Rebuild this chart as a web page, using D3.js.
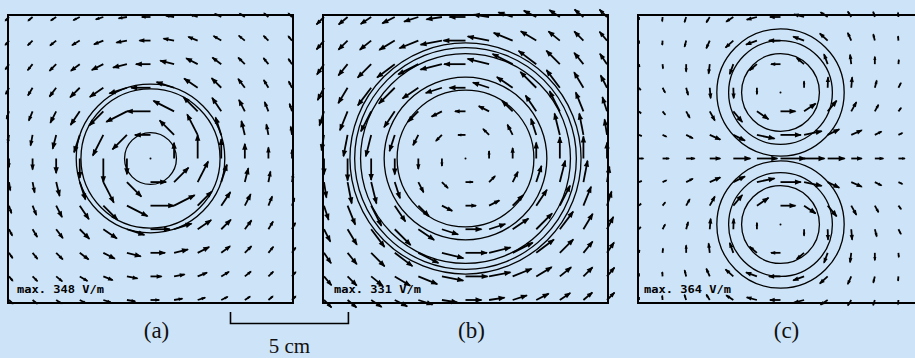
<!DOCTYPE html>
<html>
<head>
<meta charset="utf-8">
<script src="https://cdn.jsdelivr.net/npm/d3@7"></script>
<style>
  body { margin: 0; background: #cde4f8; }
  svg { display: block; }
</style>
</head>
<body>
<svg width="915" height="358"></svg>
<script>
// grid of sample points, cm from the panel centre
let gridX = [-6, -5, -4, -3, -2, -1, 0, 1, 2, 3, 4, 5, 6];
let gridY = [6, 5, 4, 3, 2, 1, 0, -1, -2, -3, -4, -5, -6];

// arrow directions (deg, counter-clockwise from +x) for the round coils (a) and (b)
let ringAngles = [
  [-135,-140,-146,-153,-162,-171,180,171,162,153,146,140,135],
  [-130,-135,-141,-149,-158,-169,180,169,158,149,141,135,130],
  [-124,-129,-135,-143,-153,-166,180,166,153,143,135,129,124],
  [-117,-121,-127,-135,-146,-162,180,162,146,135,127,121,117],
  [-108,-112,-117,-124,-135,-153,180,153,135,124,117,112,108],
  [-99,-101,-104,-108,-117,-135,180,135,117,108,104,101,99],
  [-90,-90,-90,-90,-90,-90,0,90,90,90,90,90,90],
  [-81,-79,-76,-72,-63,-45,0,45,63,72,76,79,81],
  [-72,-68,-63,-56,-45,-27,0,27,45,56,63,68,72],
  [-63,-59,-53,-45,-34,-18,0,18,34,45,53,59,63],
  [-56,-51,-45,-37,-27,-14,0,14,27,37,45,51,56],
  [-50,-45,-39,-31,-22,-11,0,11,22,31,39,45,50],
  [-45,-40,-34,-27,-18,-9,0,9,18,27,34,40,45]
];

// arrow directions for the figure-8 coil (c)
let anglesC = [
  [-90,-95,-108,-122,-147,-165,180,165,147,122,108,95,90],
  [-90,-94,-104,-114,-138,-160,180,160,138,114,104,94,90],
  [-82,-85,-90,-97,-110,-140,180,140,110,97,90,85,82],
  [-55,-62,-75,-85,-88,-90,180,90,88,85,75,62,55],
  [-45,-52,-61,-61,-50,-34,0,34,50,61,61,52,45],
  [-22,-25,-27,-24,-26,-12,0,12,26,24,27,25,22],
  [0,0,0,0,0,0,0,0,0,0,0,0,0],
  [22,25,27,24,26,12,0,-12,-26,-24,-27,-25,-22],
  [45,52,61,61,50,34,0,-34,-50,-61,-61,-52,-45],
  [55,62,75,85,88,90,180,-90,-88,-85,-75,-62,-55],
  [82,85,90,97,110,140,180,-140,-110,-97,-90,-85,-82],
  [90,94,104,114,138,160,180,-160,-138,-114,-104,-94,-90],
  [90,95,108,122,147,165,180,-165,-147,-122,-108,-95,-90]
];

// field strength, V/m
let fieldA = [
  [78,86,95,106,116,124,128,124,116,106,95,86,78],
  [86,100,115,132,148,158,163,158,148,132,115,100,86],
  [95,115,138,163,190,210,215,210,190,163,138,115,95],
  [106,132,163,200,240,270,285,270,240,200,163,132,106],
  [116,148,190,240,295,340,348,340,295,240,190,148,116],
  [124,158,210,270,340,300,230,300,340,270,210,158,124],
  [128,163,215,285,348,230,0,230,348,285,215,163,128],
  [124,158,210,270,340,300,230,300,340,270,210,158,124],
  [116,148,190,240,295,340,348,340,295,240,190,148,116],
  [106,132,163,200,240,270,285,270,240,200,163,132,106],
  [95,115,138,163,190,210,215,210,190,163,138,115,95],
  [86,100,115,132,148,158,163,158,148,132,115,100,86],
  [78,86,95,106,116,124,128,124,116,106,95,86,78]
];

let fieldB = [
  [155,170,185,205,220,230,235,230,220,205,185,170,155],
  [170,190,215,265,300,320,325,320,300,265,215,190,170],
  [185,215,280,325,331,325,315,325,331,325,280,215,185],
  [205,265,325,330,280,250,235,250,280,330,325,265,205],
  [220,300,331,280,220,170,155,170,220,280,331,300,220],
  [230,320,325,250,170,125,110,125,170,250,325,320,230],
  [235,325,315,235,155,110,0,110,155,235,315,325,235],
  [230,320,325,250,170,125,110,125,170,250,325,320,230],
  [220,300,331,280,220,170,155,170,220,280,331,300,220],
  [205,265,325,330,280,250,235,250,280,330,325,265,205],
  [185,215,280,325,331,325,315,325,331,325,280,215,185],
  [170,190,215,265,300,320,325,320,300,265,215,190,170],
  [155,170,185,205,220,230,235,230,220,205,185,170,155]
];

let fieldC = [
  [45,65,80,95,125,155,155,155,125,95,80,65,45],
  [45,65,95,125,155,170,170,170,155,125,95,65,45],
  [45,65,110,140,155,140,140,140,155,140,110,65,45],
  [45,80,110,155,155,95,0,95,155,155,110,80,45],
  [45,65,110,155,205,205,220,205,205,155,110,65,45],
  [45,65,110,170,190,265,300,265,190,170,110,65,45],
  [65,95,125,155,250,300,364,300,250,155,125,95,65],
  [45,65,110,170,190,265,300,265,190,170,110,65,45],
  [45,65,110,155,205,205,220,205,205,155,110,65,45],
  [45,80,110,155,155,95,0,95,155,155,110,80,45],
  [45,65,110,140,155,140,140,140,155,140,110,65,45],
  [45,65,95,125,155,170,170,170,155,125,95,65,45],
  [45,65,80,95,125,155,155,155,125,95,80,65,45]
];

let maxField = [348, 331, 364];
let panelNames = ["(a)", "(b)", "(c)"];

// coil centres (cm) and field line radii (cm)
let coilsA = [[0, 0]];
let coilsB = [[0, 0]];
let coilsC = [[0, 2.8], [0, -2.8]];
let linesA = [1.1, 2.95, 3.15];
let linesB = [2.9, 3.45, 4.45, 4.7, 4.9];
let linesC = [1.65, 2.2, 2.7];

let scaleBarCm = 5;

let panels = [
  {left: 8, name: panelNames[0], max: maxField[0], field: fieldA, angles: ringAngles, coils: coilsA, lines: linesA, labelDx: 9},
  {left: 323, name: panelNames[1], max: maxField[1], field: fieldB, angles: ringAngles, coils: coilsB, lines: linesB, labelDx: 11},
  {left: 638, name: panelNames[2], max: maxField[2], field: fieldC, angles: anglesC, coils: coilsC, lines: linesC, labelDx: 6}
];

let svg = d3.select("svg");
let width = 915, height = 358;
let panelTop = 15, panelBottom = 303, side = 285;

svg.append("rect").attr("width", width).attr("height", height).attr("fill", "#cde4f8");

let y = d3.scaleLinear().domain([-6, 6]).range([300, 17]);
let len = d3.scaleLinear().domain([0, 360]).range([0, 24.5]);

panels.forEach(p => {
  let x = d3.scaleLinear().domain([-6, 6]).range([p.left + 1, p.left + side - 1]);
  let g = svg.append("g");

  g.append("rect")
    .attr("x", p.left).attr("y", panelTop)
    .attr("width", side).attr("height", panelBottom - panelTop)
    .attr("fill", "none").attr("stroke", "#000").attr("stroke-width", 2);

  // field lines
  let circles = [];
  p.coils.forEach(c => p.lines.forEach(r => circles.push({cx: c[0], cy: c[1], r: r})));
  g.selectAll(".fline")
    .data(circles)
    .enter()
    .append("circle")
    .attr("class", "fline")
    .attr("cx", d => x(d.cx))
    .attr("cy", d => y(d.cy))
    .attr("r", d => x(d.r) - x(0))
    .attr("fill", "none")
    .attr("stroke", "#000")
    .attr("stroke-width", 1.3);

  g.selectAll(".centre")
    .data(p.coils)
    .enter()
    .append("circle")
    .attr("cx", d => x(d[0]))
    .attr("cy", d => y(d[1]))
    .attr("r", 1)
    .attr("fill", "#000");

  // arrows
  let arrows = [];
  p.field.forEach((row, ri) => row.forEach((v, ci) => {
    if (v > 0) arrows.push({gx: gridX[ci], gy: gridY[ri], v: v, a: p.angles[ri][ci]});
  }));

  let arrowG = g.selectAll(".arrow")
    .data(arrows)
    .enter()
    .append("g")
    .attr("class", "arrow");

  arrowG.each(function(d) {
    let L = len(d.v);
    let rad = d.a * Math.PI / 180;
    let ux = Math.cos(rad), uy = -Math.sin(rad);
    let x0 = x(d.gx), y0 = y(d.gy);
    let x1 = x0 + L * ux, y1 = y0 + L * uy;
    let sel = d3.select(this);
    sel.append("line")
      .attr("x1", x0).attr("y1", y0)
      .attr("x2", x1).attr("y2", y1)
      .attr("stroke", "#000")
      .attr("stroke-width", 1.8);
    if (L > 4) {
      let h = Math.min(6, L * 0.45), w = h * 0.45;
      let bx = x1 - h * ux, by = y1 - h * uy;
      sel.append("path")
        .attr("d", "M" + (x1 + ux) + "," + (y1 + uy) + "L" + (bx - w * uy) + "," + (by + w * ux) + "L" + (bx + w * uy) + "," + (by - w * ux) + "Z")
        .attr("fill", "#000");
    }
  });

  g.append("text")
    .attr("x", p.left + p.labelDx)
    .attr("y", 293)
    .attr("font-family", "DejaVu Sans Mono")
    .attr("font-weight", "bold")
    .attr("font-size", 10)
    .attr("textLength", 87)
    .attr("lengthAdjust", "spacingAndGlyphs")
    .attr("fill", "#000")
    .text("max. " + p.max + " V/m");

  svg.append("text")
    .attr("x", p.left + side / 2 + 6)
    .attr("y", 338)
    .attr("text-anchor", "middle")
    .attr("font-family", "Liberation Serif")
    .attr("font-size", 23)
    .attr("fill", "#111")
    .text(p.name);
});

// 5 cm scale bar
let xa = d3.scaleLinear().domain([-6, 6]).range([panels[0].left + 1, panels[0].left + side - 1]);
let barLen = xa(scaleBarCm) - xa(0);
let barX = 230.5;
svg.append("path")
  .attr("d", "M" + barX + ",312V323.5H" + (barX + barLen) + "V312")
  .attr("fill", "none")
  .attr("stroke", "#000")
  .attr("stroke-width", 1.6);

svg.append("text")
  .attr("x", barX + barLen / 2)
  .attr("y", 353)
  .attr("text-anchor", "middle")
  .attr("font-family", "Liberation Serif")
  .attr("font-size", 21)
  .attr("fill", "#111")
  .text(scaleBarCm + " cm");
</script>
</body>
</html>
